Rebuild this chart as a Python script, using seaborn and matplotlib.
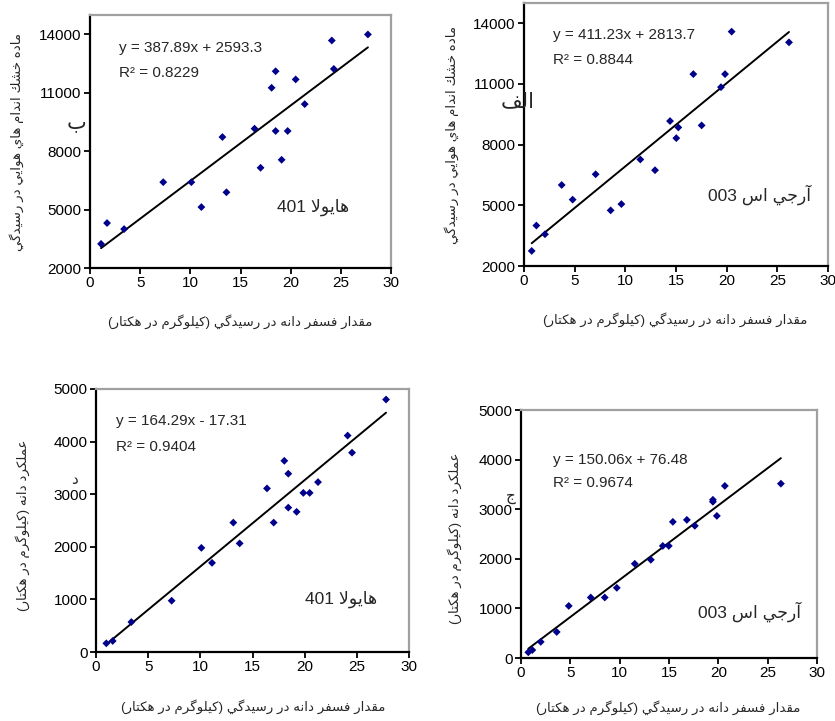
import re
import numpy as np
import pandas as pd
import matplotlib
matplotlib.use("Agg")
import matplotlib.pyplot as plt
import seaborn as sns

# ---------------- data ----------------
# Panel "ب" : Hyola 401, shoot dry matter vs grain P
p1_x = [1.1, 1.7, 3.4, 7.3, 10.1, 11.1, 13.2, 13.6, 16.4, 17.0, 18.1, 18.5, 18.5, 19.1, 19.7, 20.5, 21.4, 24.1, 24.3, 27.7]
p1_y = [3240, 4310, 4000, 6410, 6410, 5130, 8730, 5890, 9160, 7150, 11260, 12110, 9040, 7560, 9040, 11690, 10420, 13690, 12230, 14000]
p1_fit = (387.89, 2593.3)

# Panel "الف" : RGS 003, shoot dry matter vs grain P
p2_x = [0.76, 1.22, 2.07, 3.72, 4.80, 7.07, 8.55, 9.61, 11.48, 12.93, 14.41, 15.03, 15.23, 16.71, 17.53, 19.44, 19.84, 20.49, 26.15]
p2_y = [2745, 4000, 3570, 6005, 5280, 6535, 4750, 5060, 7265, 6735, 9165, 8320, 8850, 11485, 8950, 10840, 11485, 13585, 13055]
p2_fit = (411.23, 2813.7)

# Panel "د" : Hyola 401, grain yield vs grain P
p3_x = [0.99, 1.60, 3.39, 7.25, 10.10, 11.12, 13.16, 13.77, 16.39, 17.03, 18.05, 18.43, 18.43, 19.23, 19.87, 20.48, 21.28, 24.12, 24.54, 27.80]
p3_y = [165, 210, 570, 975, 1980, 1695, 2460, 2065, 3110, 2460, 3635, 3390, 2745, 2665, 3025, 3025, 3230, 4115, 3790, 4800]
p3_fit = (164.29, -17.31)

# Panel "ج" : RGS 003, grain yield vs grain P
p4_x = [0.74, 1.15, 2.00, 3.62, 4.84, 7.07, 8.49, 9.71, 11.53, 13.16, 14.37, 14.98, 15.39, 16.81, 17.62, 19.45, 19.45, 19.85, 20.66, 26.34]
p4_y = [115, 160, 325, 525, 1050, 1220, 1220, 1415, 1900, 1980, 2260, 2260, 2745, 2785, 2665, 3190, 3150, 2865, 3470, 3515]
p4_fit = (150.06, 76.48)

x_ticks = [0, 5, 10, 15, 20, 25, 30]
dm_ticks = [2000, 5000, 8000, 11000, 14000]
gy_ticks = [0, 1000, 2000, 3000, 4000, 5000]

eq_texts = ["y = 387.89x + 2593.3", "y = 411.23x + 2813.7", "y = 164.29x - 17.31", "y = 150.06x + 76.48"]
r2_texts = ["R² = 0.8229", "R² = 0.8844", "R² = 0.9404", "R² = 0.9674"]
cultivars = ["هايولا 401", "آرجي اس 003", "هايولا 401", "آرجي اس 003"]
panel_tags = ["ب", "الف", "د", "ج"]
xlabel_txt = "مقدار فسفر دانه در رسيدگي (كيلوگرم در هكتار)"
ylabel_dm = "ماده خشك اندام هاي هوايي در رسيدگي"
ylabel_gy = "عملكرد دانه (كيلوگرم در هكتار)"

# ---------------- Arabic shaping (matplotlib has no text shaping) ----------------
FORMS = {
    'ا': ('\uFE8D', '\uFE8E', None, None),
    'آ': ('\uFE81', '\uFE82', None, None),
    'د': ('\uFEA9', '\uFEAA', None, None),
    'ر': ('\uFEAD', '\uFEAE', None, None),
    'و': ('\uFEED', '\uFEEE', None, None),
    'ب': ('\uFE8F', '\uFE90', '\uFE91', '\uFE92'),
    'ت': ('\uFE95', '\uFE96', '\uFE97', '\uFE98'),
    'ج': ('\uFE9D', '\uFE9E', '\uFE9F', '\uFEA0'),
    'خ': ('\uFEA5', '\uFEA6', '\uFEA7', '\uFEA8'),
    'س': ('\uFEB1', '\uFEB2', '\uFEB3', '\uFEB4'),
    'ش': ('\uFEB5', '\uFEB6', '\uFEB7', '\uFEB8'),
    'ع': ('\uFEC9', '\uFECA', '\uFECB', '\uFECC'),
    'ف': ('\uFED1', '\uFED2', '\uFED3', '\uFED4'),
    'ق': ('\uFED5', '\uFED6', '\uFED7', '\uFED8'),
    'ك': ('\uFED9', '\uFEDA', '\uFEDB', '\uFEDC'),
    'ل': ('\uFEDD', '\uFEDE', '\uFEDF', '\uFEE0'),
    'م': ('\uFEE1', '\uFEE2', '\uFEE3', '\uFEE4'),
    'ن': ('\uFEE5', '\uFEE6', '\uFEE7', '\uFEE8'),
    'ه': ('\uFEE9', '\uFEEA', '\uFEEB', '\uFEEC'),
    'ي': ('\uFEF1', '\uFEF2', '\uFEF3', '\uFEF4'),
    'گ': ('\uFB92', '\uFB93', '\uFB94', '\uFB95'),
}


def _dual(c):
    return c in FORMS and FORMS[c][2] is not None


def shape(s):
    out = []
    i, n = 0, len(s)
    while i < n:
        c = s[i]
        if c not in FORMS:
            out.append(c)
            i += 1
            continue
        prev = s[i - 1] if i > 0 else ''
        jp = _dual(prev)
        if c == 'ل' and i + 1 < n and s[i + 1] in ('ا', 'آ'):
            lig = {'ا': ('\uFEFB', '\uFEFC'), 'آ': ('\uFEF5', '\uFEF6')}[s[i + 1]]
            out.append(lig[1] if jp else lig[0])
            i += 2
            continue
        nxt = s[i + 1] if i + 1 < n else ''
        jn = _dual(c) and nxt in FORMS
        iso, fin, ini, med = FORMS[c]
        if jp and jn:
            g = med
        elif jp:
            g = fin
        elif jn:
            g = ini
        else:
            g = iso
        out.append(g)
        i += 1
    return ''.join(out)


def visual(s):
    s = shape(s)
    toks = re.findall(r'[0-9A-Za-z.]+|[^0-9A-Za-z.]+', s)
    mirror = str.maketrans('()', ')(')
    res = []
    for t in reversed(toks):
        if re.match(r'[0-9A-Za-z.]', t):
            res.append(t)
        else:
            res.append(t[::-1].translate(mirror))
    return ''.join(res)


# ---------------- figure ----------------
sns.set_style("white")
plt.rcParams['font.family'] = ['Liberation Sans', 'DejaVu Sans']

W, H = 835, 721
fig = plt.figure(figsize=(W / 100, H / 100), dpi=100)
fig.patch.set_facecolor('white')


def fpos(l, r, t, b):
    return [l / W, 1 - b / H, (r - l) / W, (b - t) / H]


def ftxt(x, y, s, **kw):
    fig.text(x / W, 1 - y / H, s, **kw)


panels = [
    dict(x=p1_x, y=p1_y, fit=p1_fit, box=(90, 391, 15, 268), ylim=(2000, 15000), yt=dm_ticks),
    dict(x=p2_x, y=p2_y, fit=p2_fit, box=(524, 828, 3, 266), ylim=(2000, 15000), yt=dm_ticks),
    dict(x=p3_x, y=p3_y, fit=p3_fit, box=(96, 409, 389, 652), ylim=(0, 5000), yt=gy_ticks),
    dict(x=p4_x, y=p4_y, fit=p4_fit, box=(521, 817, 410, 658), ylim=(0, 5000), yt=gy_ticks),
]

navy = '#00008B'
for p in panels:
    ax = fig.add_axes(fpos(*p['box']))
    df = pd.DataFrame({'x': p['x'], 'y': p['y']})
    a, b = p['fit']
    xl = np.array([min(p['x']), max(p['x'])])
    line_df = pd.DataFrame({'x': xl, 'y': a * xl + b})
    sns.lineplot(data=line_df, x='x', y='y', ax=ax, color='black', lw=1.4)
    sns.scatterplot(data=df, x='x', y='y', ax=ax, marker='D', s=16, color=navy,
                    edgecolor='none', linewidth=0, zorder=3)
    ax.set_xlim(0, 30)
    ax.set_ylim(*p['ylim'])
    ax.set_xticks(x_ticks)
    ax.set_yticks(p['yt'])
    ax.set_xlabel('')
    ax.set_ylabel('')
    ax.tick_params(axis='both', which='major', direction='out', length=4, width=1.3,
                   colors='black', labelsize=11, pad=2, left=True, bottom=True)
    for side in ('left', 'bottom'):
        ax.spines[side].set_color('black')
        ax.spines[side].set_linewidth(1.6)
    for side in ('top', 'right'):
        ax.spines[side].set_color('#a0a0a0')
        ax.spines[side].set_linewidth(1.6)
    ax.set_facecolor('white')

# equations
eq_pos = [(119, 48, 73), (553, 35, 60), (116, 421, 447), (553, 460, 483)]
for (x, y1, y2), e, r in zip(eq_pos, eq_texts, r2_texts):
    ftxt(x, y1, e, fontsize=11, ha='left', va='center')
    ftxt(x, y2, r, fontsize=11, ha='left', va='center')

# cultivar names
cv_pos = [(313, 207), (759, 195), (341, 599), (749, 612)]
for (x, y), c in zip(cv_pos, cultivars):
    ftxt(x, y, visual(c), fontsize=12.5, ha='center', va='center')

# panel tags
tag_pos = [(77, 123, 15), (518, 102, 15), (74, 480, 11), (511, 497, 11)]
for (x, y, fs), t in zip(tag_pos, panel_tags):
    ftxt(x, y, visual(t), fontsize=fs, ha='center', va='center')

# x labels
for x, y in [(240, 322), (675, 320), (253, 707), (668, 708)]:
    ftxt(x, y, visual(xlabel_txt), fontsize=9.6, ha='center', va='center')

# y labels
for (x, y), s in zip([(17, 142), (452, 135), (23, 525), (455, 538)],
                     [ylabel_dm, ylabel_dm, ylabel_gy, ylabel_gy]):
    ftxt(x, y, visual(s), fontsize=9.6, ha='center', va='center', rotation=90)

fig.savefig('out.png', dpi=100, facecolor='white')
